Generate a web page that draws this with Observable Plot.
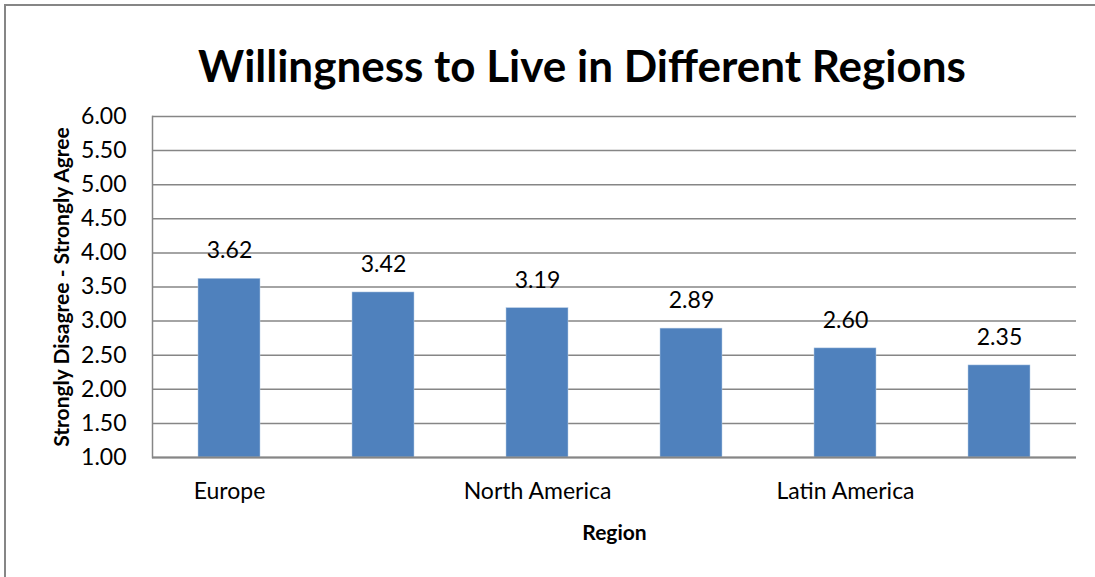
<!DOCTYPE html>
<html>
<head>
<meta charset="utf-8">
<script src="https://cdn.jsdelivr.net/npm/d3@7"></script>
<script src="https://cdn.jsdelivr.net/npm/@observablehq/plot@0.6"></script>
<style>
  html, body { margin: 0; padding: 0; background: #fff; }
  #wrap { position: relative; width: 1095px; height: 577px; overflow: hidden; font-family: Lato, "Open Sans", sans-serif; }
  #border { position: absolute; left: 4px; top: 4px; width: 1200px; height: 700px; border-top: 2px solid #868686; border-left: 2px solid #868686; }
  #title { position: absolute; left: 82px; width: 1000px; top: 38px; text-align: center; white-space: nowrap; font-weight: 700; font-size: 44px; line-height: 54px; color: #000; }
  #chart { position: absolute; left: 0; top: 100px; }
</style>
</head>
<body>
<div id="wrap">
  <div id="border"></div>
  <div id="title">Willingness to Live in Different Regions</div>
  <div id="chart"></div>
</div>
<script>
// Categories (only every other label is printed in the original chart)
const regionLabels = ["Europe", "", "North America", "", "Latin America", ""];
const scores = [3.62, 3.42, 3.19, 2.89, 2.60, 2.35];
const yTicks = [1.00, 1.50, 2.00, 2.50, 3.00, 3.50, 4.00, 4.50, 5.00, 5.50, 6.00];
const yLabel = "Strongly Disagree - Strongly Agree";
const xLabel = "Region";

const data = scores.map((v, i) => ({i, label: regionLabels[i], v}));
const gridColor = "#868686";

const chart = Plot.plot({
  width: 1095,
  height: 477,
  marginLeft: 152,
  marginRight: 19,
  marginTop: 16,
  marginBottom: 120,
  style: {fontFamily: "Lato, 'Open Sans', sans-serif", background: "transparent", overflow: "visible"},
  x: {type: "band", domain: d3.range(regionLabels.length), paddingInner: 0.6, paddingOuter: 0.3},
  y: {domain: [1, 6]},
  marks: [
    Plot.gridY(yTicks, {stroke: gridColor, strokeOpacity: 1, strokeWidth: 1.5}),
    Plot.barY(data, {x: "i", y1: () => 1, y2: "v", fill: "#4f81bd", stroke: "#b9cde5", strokeWidth: 0.5}),
    Plot.frame({anchor: "left", stroke: gridColor, strokeWidth: 1.5}),
    Plot.ruleY([1], {stroke: gridColor, strokeWidth: 2}),
    Plot.axisY({ticks: yTicks, tickFormat: d3.format(".2f"), tickSize: 0, tickPadding: 26, fontSize: 23, fill: "#000", label: null}),
    Plot.axisX({tickFormat: i => regionLabels[i], tickSize: 0, tickPadding: 25, fontSize: 23, fill: "#000", label: null}),
    Plot.text(data, {x: "i", y: "v", text: d => d.v.toFixed(2), dy: -28, fontSize: 23, fill: "#000"}),
    Plot.text([yLabel], {frameAnchor: "left", textAnchor: "middle", rotate: -90, dx: -90, fontSize: 21, fontWeight: "bold", fill: "#000"}),
    Plot.text([xLabel], {frameAnchor: "bottom", dy: 82, fontSize: 21, fontWeight: "bold", fill: "#000"})
  ]
});
document.getElementById("chart").appendChild(chart);
</script>
</body>
</html>
